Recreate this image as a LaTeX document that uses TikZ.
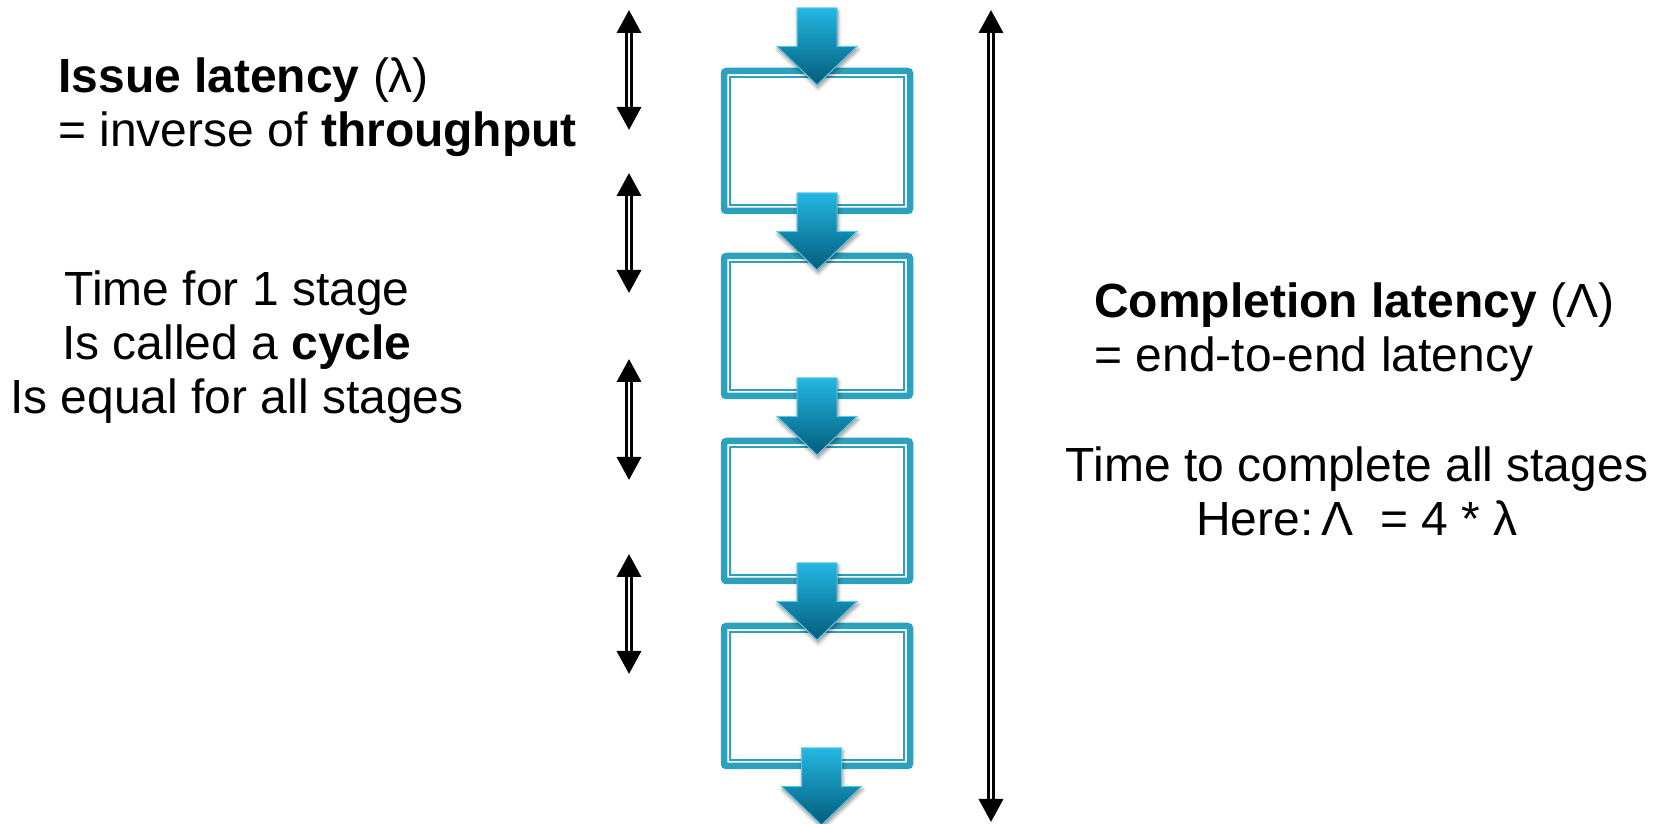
\documentclass[tikz,border=0pt]{standalone}
\usepackage{fontspec}
\setmainfont{Liberation Sans}
\usetikzlibrary{arrows.meta}
\usetikzlibrary{shadows.blur}

\definecolor{stageblue}{RGB}{44,161,190}
\definecolor{flowtop}{RGB}{36,183,226}
\definecolor{flowbot}{RGB}{2,92,122}
\definecolor{flowedge}{RGB}{92,200,232}

\tikzset{
    stage/.style = {rectangle, draw=stageblue, line width=0.13cm, rounded corners=0.05cm, minimum width=3.72cm, minimum height=2.80cm, inner sep=0, outer sep=0},
    stageinner/.style = {draw=stageblue, line width=0.04cm},
    flowarrow/.style = {top color=flowtop, bottom color=flowbot, draw=flowedge, line width=0.02cm, blur shadow={shadow xshift=0.02cm, shadow yshift=-0.06cm, shadow opacity=45, shadow blur steps=6}},
    spanarrow/.style = {{Triangle[length=0.46cm,width=0.48cm]}-{Triangle[length=0.46cm,width=0.48cm]}, draw=black, line width=0.07cm, double=white, double distance=0.025cm},
    txt/.style = {font=\fontsize{27.3}{31}\selectfont, inner sep=0},
    flow/.pic = {\path[flowarrow] (-0.4,0.77) -- (0.4,0.77) -- (0.4,0) -- (0.8,0) -- (0,-0.77) -- (-0.8,0) -- (-0.4,0) -- cycle;}
}

\begin{document}
\begin{tikzpicture}
\useasboundingbox (0,0) rectangle (33.3,16.48);

% pipeline stages
\node[stage] at (16.34,13.66) (s1) {};
\node[stage] at (16.34, 9.96) (s2) {};
\node[stage] at (16.34, 6.26) (s3) {};
\node[stage] at (16.34, 2.56) (s4) {};
\foreach \i in {1,...,4}
    \draw[stageinner] ([shift={(0.125,0.125)}]s\i.south west) rectangle ([shift={(-0.125,-0.125)}]s\i.north east);

% flow into / out of each stage
\pic at (16.34,15.55) {flow};
\pic at (16.34,11.85) {flow};
\pic at (16.34, 8.15) {flow};
\pic at (16.34, 4.45) {flow};
\pic at (16.43, 0.75) {flow};

% one cycle per stage
\foreach \i/\t/\b in {1/16.28/13.88, 2/13.02/10.62, 3/9.30/6.88, 4/5.40/3.00} {
    \coordinate (c\i t) at (12.58,\t);
    \coordinate (c\i b) at (12.58,\b);
    \draw[spanarrow] (c\i t) -- (c\i b);
}

% whole pipe
\coordinate (ltop) at (19.82,16.28);
\coordinate (lbot) at (19.82,0.04);
\draw[spanarrow] (ltop) -- (lbot);

% base anchor sits on the last line
\node[txt, anchor=base west, align=left] at (1.16,13.54) (issue) {\textbf{Issue latency} (λ)\\= inverse of \textbf{throughput}};
\node[txt, anchor=base, align=center] at (4.74,8.20) (cycle) {Time for 1 stage\\Is called a \textbf{cycle}\\Is equal for all stages};
\node[txt, anchor=base west, align=left] at (21.88,9.04) (compl) {\textbf{Completion latency} (Λ)\\= end-to-end latency};
\node[txt, anchor=base, align=center] at (27.14,5.76) (total) {Time to complete all stages\\Here:\,Λ \ = 4 * λ};

\end{tikzpicture}
\end{document}
